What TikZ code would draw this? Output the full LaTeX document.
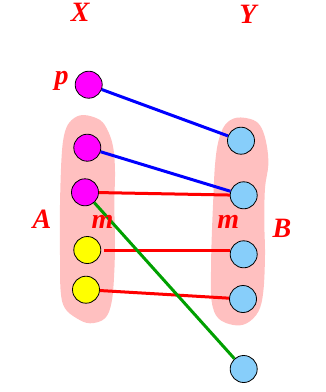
\documentclass[tikz,border=0pt]{standalone}
\usepackage{fontspec}
\setmainfont{Liberation Serif}
\definecolor{blobpink}{RGB}{255,192,192}
\definecolor{skyb}{RGB}{135,206,250}
\definecolor{lgreen}{RGB}{0,160,0}
\definecolor{magc}{RGB}{255,0,255}
\definecolor{yelc}{RGB}{255,255,0}
\definecolor{redc}{RGB}{255,0,0}
\definecolor{bluec}{RGB}{0,0,255}
\tikzset{
  dot/.style={circle,draw=black,line width=0.8pt,minimum size=27pt,inner sep=0pt},
  mag/.style={dot,fill=magc},
  yel/.style={dot,fill=yelc},
  sky/.style={dot,fill=skyb},
  lbl/.style={text=redc,inner sep=0pt,font=\fontsize{28}{30}\selectfont\bfseries\itshape},
  link/.style={line width=3pt},
}
\begin{document}
\begin{tikzpicture}[x=1pt,y=-1pt]
\useasboundingbox (0,0) rectangle (326,392);
% blobs
\fill[blobpink] plot[smooth cycle,tension=0.6] coordinates {(83.3,115) (100,120) (108.3,131.7) (113.3,148) (115,171.7) (114.3,205) (115,238) (114.3,271.7) (111.7,301.7) (105,318.3) (90,323.3) (76.7,318.3) (65,308.3) (60.7,291.7) (60,255) (60,205) (61.7,155) (65,131.7) (71.7,120)};
\fill[blobpink] plot[smooth cycle,tension=0.6] coordinates {(236.7,117.7) (253.3,120) (261.7,128.3) (266.7,145) (268.3,165) (265,188.3) (264.3,221.7) (265,255) (263.3,291.7) (258.3,311.7) (246.7,323.3) (233.3,325) (218.3,318.3) (211.7,301.7) (211,271.7) (211.7,238.3) (213.3,198.3) (215,165) (218.3,141.7) (225,125)};
% nodes
\node[mag] (p) at (88.7,84.7) {};
\node[mag] (x1) at (87.3,147.7) {};
\node[mag] (x2) at (85,192.3) {};
\node[yel] (y1) at (87.3,250) {};
\node[yel] (y2) at (86,289.7) {};
\node[sky] (b1) at (241,140.7) {};
\node[sky] (b2) at (243.7,195.3) {};
\node[sky] (b3) at (243.7,254.3) {};
\node[sky] (b4) at (243,299) {};
\node[sky] (b5) at (243.7,369) {};
% connectors
\draw[link,bluec] (p) -- (b1);
\draw[link,bluec] (x1) -- (b2);
\draw[link,redc] (x2) -- (b2);
\draw[link,redc] ([xshift=3pt]y1.east |- 0,250) coordinate (s3) -- (b3.west |- s3);
\draw[link,redc] (y2) -- (b4);
\draw[link,lgreen] (x2) -- (b5);
% labels
\node[lbl] (lx) at (80.3,12) {X};
\node[lbl] (ly) at (248,14.2) {Y};
\node[lbl] (lp) at (61.7,80.5) {p};
\node[lbl] (la) at (42,219.5) {A};
\node[lbl] (lm1) at (102.5,222.2) {m};
\node[lbl] (lm2) at (228.3,222.2) {m};
\node[lbl] (lb) at (282,228.3) {B};
\end{tikzpicture}
\end{document}
